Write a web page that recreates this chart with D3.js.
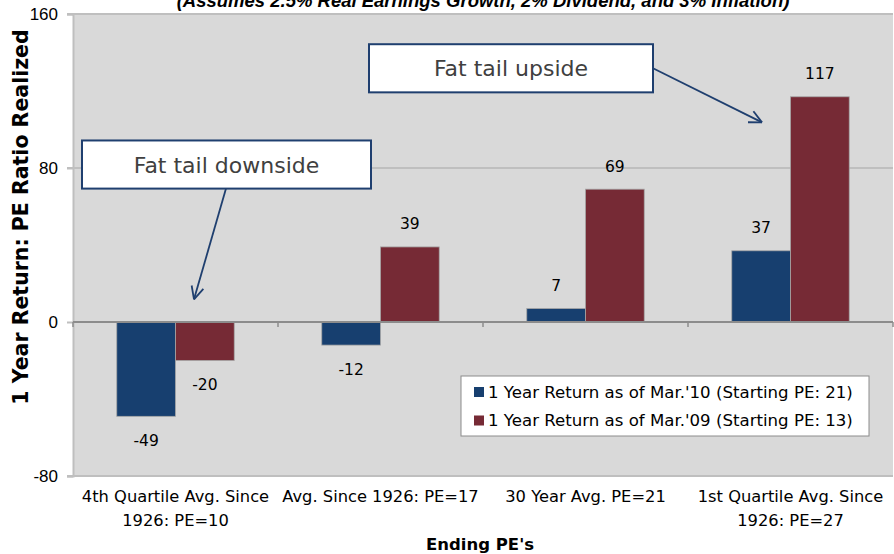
<!DOCTYPE html>
<html>
<head>
<meta charset="utf-8">
<script src="https://cdn.jsdelivr.net/npm/d3@7"></script>
<style>
  body { margin: 0; background: #fff; }
  svg { display: block; font-family: "DejaVu Sans", Verdana, sans-serif; }
</style>
</head>
<body>
<div id="chart"></div>
<script>
// chart data
const categories = [
  ["4th Quartile Avg. Since", "1926: PE=10"],
  ["Avg. Since 1926: PE=17"],
  ["30 Year Avg. PE=21"],
  ["1st Quartile Avg. Since", "1926: PE=27"]
];
const seriesNames = [
  "1 Year Return as of Mar.'10 (Starting PE: 21)",
  "1 Year Return as of Mar.'09 (Starting PE: 13)"
];
const returnsMar10 = [-49, -12, 7, 37];
const returnsMar09 = [-20, 39, 69, 117];
const yTicks = [-80, 0, 80, 160];
const seriesColors = ["#173f6f", "#762a35"];

const WIDTH = 894, HEIGHT = 554;
const M = { top: 14, right: 1, bottom: 78, left: 73 };

const svg = d3.select("#chart").append("svg")
  .attr("width", WIDTH)
  .attr("height", HEIGHT);

const x0 = d3.scaleBand()
  .domain(d3.range(categories.length))
  .range([M.left, WIDTH - M.right])
  .paddingInner(0.427)
  .paddingOuter(0.2135);

const x1 = d3.scaleBand()
  .domain([0, 1])
  .range([0, x0.bandwidth()]);

const y = d3.scaleLinear()
  .domain([-80, 160])
  .range([HEIGHT - M.bottom, M.top]);

// plot background
svg.append("rect")
  .attr("x", M.left)
  .attr("y", M.top)
  .attr("width", WIDTH - M.right - M.left)
  .attr("height", y(-80) - y(160))
  .attr("fill", "#d9d9d9");

// gridlines
svg.append("g")
  .selectAll("line")
  .data(yTicks.filter(d => d !== 0))
  .join("line")
  .attr("x1", M.left - 6)
  .attr("x2", WIDTH - M.right)
  .attr("y1", d => y(d))
  .attr("y2", d => y(d))
  .attr("stroke", "#bfbfbf")
  .attr("stroke-width", 2);

// y axis
const yAxis = svg.append("g")
  .attr("transform", `translate(${M.left},0)`)
  .call(d3.axisLeft(y).tickValues(yTicks).tickSize(6).tickPadding(9)
    .tickFormat(d => String(d)));
yAxis.select(".domain").attr("stroke", "#bfbfbf").attr("stroke-width", 2);
yAxis.selectAll(".tick line").attr("stroke", "#bfbfbf").attr("stroke-width", 2);
yAxis.selectAll(".tick text")
  .attr("font-family", "'Liberation Sans Narrow', 'Arial Narrow', 'Liberation Sans', sans-serif")
  .attr("font-size", 17)
  .attr("fill", "#000");

// bars
const rows = categories.map((c, i) => [returnsMar10[i], returnsMar09[i]]);
const groups = svg.append("g")
  .selectAll("g")
  .data(rows)
  .join("g")
  .attr("transform", (d, i) => `translate(${x0(i)},0)`);

groups.selectAll("rect")
  .data(d => d.map((v, s) => ({ v, s })))
  .join("rect")
  .attr("x", d => x1(d.s))
  .attr("width", x1.bandwidth())
  .attr("y", d => y(Math.max(0, d.v)))
  .attr("height", d => Math.abs(y(d.v) - y(0)))
  .attr("fill", d => seriesColors[d.s])
  .attr("stroke", "#a6a6a6")
  .attr("stroke-width", 0.8);

groups.selectAll("text")
  .data(d => d.map((v, s) => ({ v, s })))
  .join("text")
  .attr("x", d => x1(d.s) + x1.bandwidth() / 2)
  .attr("y", d => d.v >= 0 ? y(d.v) - 17.5 : y(d.v) + 29.5)
  .attr("text-anchor", "middle")
  .attr("font-size", 15.5)
  .attr("fill", "#000")
  .text(d => d.v);

// zero line with category ticks
svg.append("line")
  .attr("x1", M.left)
  .attr("x2", WIDTH - M.right)
  .attr("y1", y(0))
  .attr("y2", y(0))
  .attr("stroke", "#8c8c8c")
  .attr("stroke-width", 2);

svg.append("g")
  .selectAll("line")
  .data(d3.range(categories.length + 1))
  .join("line")
  .attr("x1", i => x0.step() * i + M.left)
  .attr("x2", i => x0.step() * i + M.left)
  .attr("y1", y(0))
  .attr("y2", y(0) + 5)
  .attr("stroke", "#8c8c8c")
  .attr("stroke-width", 1.5);

// category labels
const catLabels = svg.append("g")
  .selectAll("text")
  .data(categories)
  .join("text")
  .attr("x", (d, i) => x0(i) + x0.bandwidth() / 2)
  .attr("y", y(-80) + 26)
  .attr("text-anchor", "middle")
  .attr("font-size", 16.3)
  .attr("fill", "#000");
catLabels.selectAll("tspan")
  .data(d => d)
  .join("tspan")
  .attr("x", function() { return this.parentNode.getAttribute("x"); })
  .attr("dy", (d, i) => i === 0 ? 0 : 24)
  .text(d => d);

// axis titles
svg.append("text")
  .attr("x", 480)
  .attr("y", 550)
  .attr("text-anchor", "middle")
  .attr("font-size", 16.5)
  .attr("font-weight", "bold")
  .text("Ending PE's");

svg.append("text")
  .attr("transform", "translate(28,217) rotate(-90)")
  .attr("text-anchor", "middle")
  .attr("font-size", 20.5)
  .attr("font-weight", "bold")
  .text("1 Year Return: PE Ratio Realized");

// title (clipped at the top)
svg.append("text")
  .attr("x", (M.left + WIDTH - M.right) / 2)
  .attr("y", 7)
  .attr("text-anchor", "middle")
  .attr("font-family", "'Liberation Sans', Arial, sans-serif")
  .attr("font-size", 18.5)
  .attr("font-weight", "bold")
  .attr("font-style", "italic")
  .text("(Assumes 2.5% Real Earnings Growth, 2% Dividend, and 3% Inflation)");

// legend
const legend = svg.append("g").attr("transform", "translate(461,376)");
legend.append("rect")
  .attr("width", 408)
  .attr("height", 60)
  .attr("fill", "#fff")
  .attr("stroke", "#8c8c8c")
  .attr("stroke-width", 1);
seriesNames.forEach((name, i) => {
  legend.append("rect")
    .attr("x", 13)
    .attr("y", 11 + i * 28.5)
    .attr("width", 10)
    .attr("height", 10)
    .attr("fill", seriesColors[i]);
  legend.append("text")
    .attr("x", 27)
    .attr("y", 21.5 + i * 28.5)
    .attr("font-size", 16.6)
    .attr("fill", "#000")
    .text(name);
});

// annotations: boxes placed in value space, arrows pointing at the bars
const annotations = [
  { text: "Fat tail downside", x: 82, w: 289, top: 94.3, bottom: 69.3,
    from: [226, 69.3], to: [194, 11.8] },
  { text: "Fat tail upside", x: 369, w: 284, top: 144.3, bottom: 119.3,
    from: [653, 131.8], to: [762, 103.7] }
];

annotations.forEach(a => {
  const g = svg.append("g");
  const [fx, fy] = [a.from[0], y(a.from[1])];
  const [tx, ty] = [a.to[0], y(a.to[1])];
  g.append("line")
    .attr("x1", fx).attr("y1", fy).attr("x2", tx).attr("y2", ty)
    .attr("stroke", "#1f3f6f").attr("stroke-width", 1.8);
  const ang = Math.atan2(ty - fy, tx - fx);
  [-0.45, 0.45].forEach(da => {
    g.append("line")
      .attr("x1", tx).attr("y1", ty)
      .attr("x2", tx - 14 * Math.cos(ang + da))
      .attr("y2", ty - 14 * Math.sin(ang + da))
      .attr("stroke", "#1f3f6f").attr("stroke-width", 1.8);
  });
  g.append("rect")
    .attr("x", a.x)
    .attr("y", y(a.top))
    .attr("width", a.w)
    .attr("height", y(a.bottom) - y(a.top))
    .attr("fill", "#fff")
    .attr("stroke", "#1f3f6f")
    .attr("stroke-width", 2);
  g.append("text")
    .attr("x", a.x + a.w / 2)
    .attr("y", (y(a.top) + y(a.bottom)) / 2 + 8)
    .attr("text-anchor", "middle")
    .attr("font-size", 22)
    .attr("fill", "#404040")
    .text(a.text);
});
</script>
</body>
</html>
